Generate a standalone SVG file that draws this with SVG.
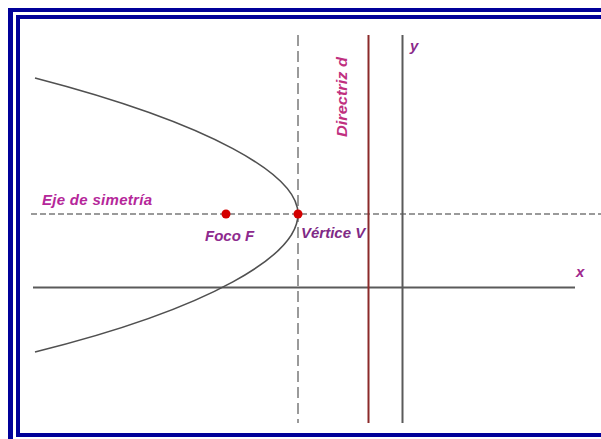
<svg xmlns="http://www.w3.org/2000/svg" width="601" height="439" viewBox="0 0 601 439">
<style>
.frame{fill:#000099}
.lbl{font-family:"Liberation Sans",Arial,sans-serif;font-weight:bold;font-style:italic;font-size:15px}
.dash{stroke:#7a7a7a;stroke-width:1.5;fill:none}
.axis{stroke:#5a5a5a;stroke-width:2;fill:none}
.curve{stroke:#505050;stroke-width:1.6;fill:none}
.pt{fill:#d40000}
</style>
<rect width="601" height="439" fill="#ffffff"/>
<g id="frame">
<rect class="frame" x="8" y="8" width="593" height="4"/>
<rect class="frame" x="8" y="8" width="5" height="431"/>
<rect class="frame" x="16" y="15" width="585" height="4"/>
<rect class="frame" x="16" y="15" width="4" height="422"/>
<rect class="frame" x="16" y="433" width="585" height="4"/>
</g>
<g id="connectors">
<line id="eje" class="dash" x1="31" y1="214" x2="601" y2="214" stroke-dasharray="6 3"/>
<line id="vert-dash" class="dash" x1="298" y1="35" x2="298" y2="423" stroke-dasharray="11 5" stroke-width="1.8" stroke="#666"/>
<line id="x-axis" class="axis" x1="33" y1="287.5" x2="575" y2="287.5"/>
<line id="directriz" x1="368.5" y1="35" x2="368.5" y2="423" stroke="#8b2a2a" stroke-width="2"/>
<line id="y-axis" class="axis" x1="402.5" y1="35" x2="402.5" y2="423" stroke-width="1.6"/>
<path id="parabola" class="curve" d="M35,78 C212,124 298,175 298,214 C298,255 212,308 35,352"/>
</g>
<g id="foco">
<circle class="pt" cx="226" cy="214" r="4.5"/>
<text class="lbl" x="205" y="241" fill="#8e2a8e">Foco F</text>
</g>
<g id="vertice">
<circle class="pt" cx="298" cy="214" r="4.5"/>
<text class="lbl" x="301" y="238" fill="#7f2a86">Vértice V</text>
</g>
<g id="labels">
<text class="lbl" x="42" y="205" fill="#b5279a" textLength="110" lengthAdjust="spacing">Eje de simetría</text>
<text class="lbl" x="576" y="277" fill="#a0288e">x</text>
<text class="lbl" x="410" y="51" fill="#8a2a8a" font-size="13">y</text>
<text class="lbl" transform="translate(347,137) rotate(-90)" fill="#c0307f" font-size="13" textLength="80" lengthAdjust="spacingAndGlyphs">Directriz d</text>
</g>
</svg>
